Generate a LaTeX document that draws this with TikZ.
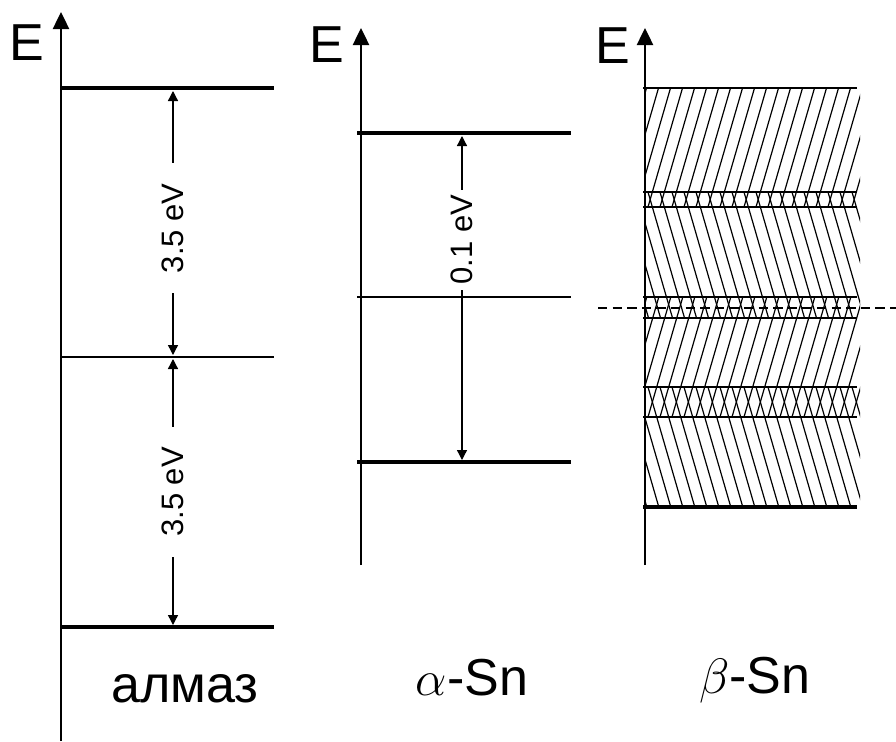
\documentclass[tikz,border=0pt]{standalone}
\usepackage{fontspec}
\setmainfont{Liberation Sans}
\usetikzlibrary{arrows.meta}

\begin{document}
\begin{tikzpicture}[x=0.5pt,y=-0.5pt,
    axis/.style={line width=1.25pt,-{Triangle[length=8.5pt,width=8pt]}},
    level/.style={line width=2pt},
    sublevel/.style={line width=1.35pt},
    midlevel/.style={line width=1pt},
    gaparrow/.style={line width=0.65pt,{Triangle[length=5pt,width=5pt]}-{Triangle[length=5pt,width=5pt]}},
    gaplabel/.style={rotate=90,fill=white,inner ysep=1pt,font=\fontsize{15.5}{17}\selectfont},
    hatch/.style={line width=0.6pt},
    biglabel/.style={anchor=base,font=\fontsize{26}{30}\selectfont}]
  \useasboundingbox (0,0) rectangle (896,741);

  % beta-Sn hatched bands
  \foreach \ys/\ye in {207/88,192/318,417/297,387/507}{
    \begin{scope}
      \clip (645,\ys) rectangle (860,\ye);
      \foreach \x in {600,612,...,864}
        \draw[hatch] (\x,\ys) -- ({\x+0.29*abs(\ye-\ys)},\ye);
    \end{scope}
  }

  % axes
  \draw[axis] (61,741) -- (61,12);
  \draw[axis] (361,565) -- (361,28);
  \draw[axis] (645,565) -- (645,28);
  \node[biglabel] (E1) at (27,60) {E};
  \node[biglabel] (E2) at (327,62) {E};
  \node[biglabel] (E3) at (613,63) {E};

  % diamond
  \draw[level] (61,88) -- (274,88);
  \draw[midlevel] (61,357) -- (274,357);
  \draw[level] (61,627) -- (274,627);
  \coordinate (a1) at (173,91);
  \coordinate (a2) at (173,355);
  \coordinate (a3) at (173,359);
  \coordinate (a4) at (173,625);
  \draw[gaparrow] (a2) -- node[gaplabel,pos=0.48,inner xsep=10pt] (g1) {3.5 eV} (a1);
  \draw[gaparrow] (a4) -- node[gaplabel,inner xsep=10pt] (g2) {3.5 eV} (a3);

  % alpha-Sn
  \draw[level] (357,133) -- (571,133);
  \draw[midlevel] (357,297) -- (571,297);
  \draw[level] (357,462) -- (571,462);
  \coordinate (b1) at (462,136);
  \coordinate (b2) at (462,460);
  \draw[gaparrow] (b2) -- node[gaplabel,pos=0.68,inner xsep=2.5pt] (g3) {0.1 eV} (b1);

  % beta-Sn
  \draw[sublevel] (643,88) -- (857,88);
  \foreach \y in {192,207,297,318,387,417}
    \draw[sublevel] (643,\y) -- (857,\y);
  \draw[level] (643,507) -- (857,507);
  \draw[line width=1pt,dash pattern=on 4.7pt off 2.6pt] (598,308) -- (896,308);

  % names
  \node[biglabel] (n1) at (185,702) {алмаз};
  \node[biglabel] (n2) at (472,695) {$\alpha$-Sn};
  \node[biglabel] (n3) at (755,693) {$\beta$-Sn};
\end{tikzpicture}
\end{document}
